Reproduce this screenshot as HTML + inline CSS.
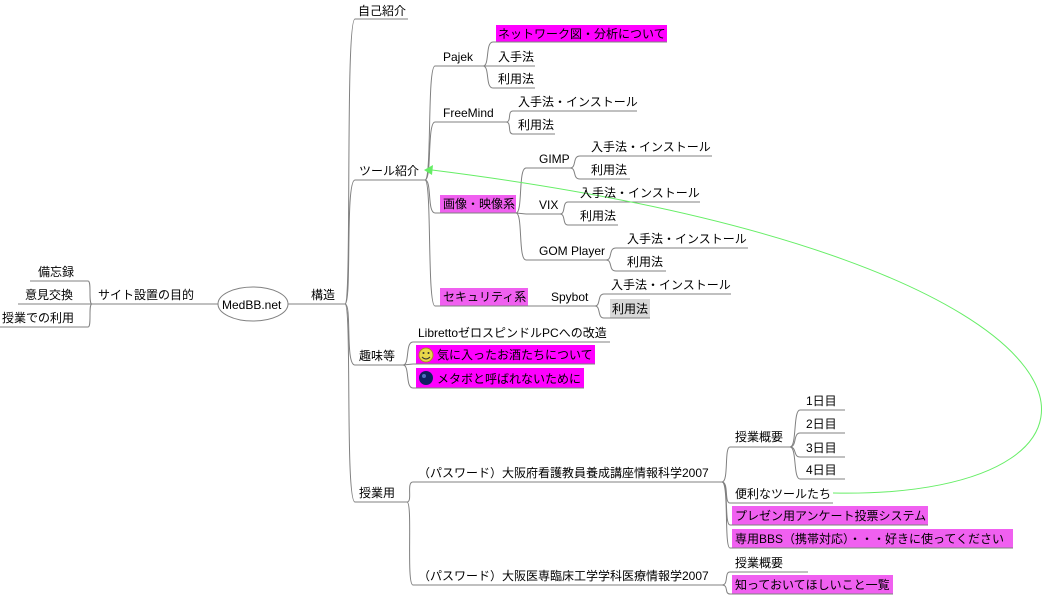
<!DOCTYPE html>
<html><head><meta charset="utf-8">
<style>
html,body{margin:0;padding:0;background:#fff;width:1050px;height:595px;overflow:hidden}
svg{display:block}
text{font-family:"Liberation Sans","Noto Sans CJK JP",sans-serif;font-size:12px;fill:#000}
.e{fill:none;stroke:#808080;stroke-width:1}
.u{stroke:#808080;stroke-width:1}
</style></head><body>
<svg width="1050" height="595" viewBox="0 0 1050 595" xmlns="http://www.w3.org/2000/svg">
<rect x="496" y="25" width="171" height="17" fill="#ff00ff"/>
<rect x="440" y="195" width="76" height="18" fill="#f060f0"/>
<rect x="440" y="288" width="88" height="18" fill="#f060f0"/>
<rect x="610" y="299" width="40" height="19" fill="#d8d8d8"/>
<rect x="416" y="345" width="179" height="19" fill="#ff00ff"/>
<rect x="416" y="368" width="168" height="20" fill="#ff00ff"/>
<rect x="732" y="506" width="196" height="19" fill="#f060f0"/>
<rect x="732" y="529" width="281" height="19" fill="#f060f0"/>
<rect x="732" y="575" width="161" height="19" fill="#f060f0"/>

<ellipse cx="253" cy="304" rx="35" ry="17" fill="#fff" stroke="#808080"/>

<g class="u">
<line x1="30" y1="281" x2="88" y2="281"/>
<line x1="18" y1="304" x2="88" y2="304"/>
<line x1="0" y1="327" x2="88" y2="327"/>
<line x1="92" y1="304" x2="218" y2="304"/>
<line x1="288" y1="304" x2="345" y2="304"/>
<line x1="355" y1="19" x2="408" y2="19"/>
<line x1="355" y1="180" x2="425" y2="180"/>
<line x1="355" y1="365" x2="403" y2="365"/>
<line x1="355" y1="502" x2="407" y2="502"/>
<line x1="435" y1="66" x2="483" y2="66"/>
<line x1="493" y1="42" x2="667" y2="42"/>
<line x1="493" y1="66" x2="535" y2="66"/>
<line x1="493" y1="88" x2="535" y2="88"/>
<line x1="435" y1="122" x2="506" y2="122"/>
<line x1="513" y1="111" x2="637" y2="111"/>
<line x1="513" y1="134" x2="555" y2="134"/>
<line x1="435" y1="213" x2="516" y2="213"/>
<line x1="526" y1="168" x2="570" y2="168"/>
<line x1="580" y1="156" x2="712" y2="156"/>
<line x1="580" y1="179" x2="630" y2="179"/>
<line x1="526" y1="214" x2="560" y2="214"/>
<line x1="568" y1="202" x2="700" y2="202"/>
<line x1="568" y1="225" x2="618" y2="225"/>
<line x1="526" y1="260" x2="606" y2="260"/>
<line x1="616" y1="248" x2="748" y2="248"/>
<line x1="616" y1="271" x2="666" y2="271"/>
<line x1="435" y1="306" x2="595" y2="306"/>
<line x1="604" y1="294" x2="731" y2="294"/>
<line x1="604" y1="318" x2="650" y2="318"/>
<line x1="413" y1="342" x2="610" y2="342"/>
<line x1="413" y1="364" x2="595" y2="364"/>
<line x1="413" y1="388" x2="584" y2="388"/>
<line x1="413" y1="482" x2="722" y2="482"/>
<line x1="413" y1="585" x2="722" y2="585"/>
<line x1="730" y1="447" x2="790" y2="447"/>
<line x1="800" y1="410" x2="845" y2="410"/>
<line x1="800" y1="433" x2="845" y2="433"/>
<line x1="800" y1="457" x2="845" y2="457"/>
<line x1="800" y1="479" x2="845" y2="479"/>
<line x1="730" y1="503" x2="833" y2="503"/>
<line x1="730" y1="525" x2="928" y2="525"/>
<line x1="730" y1="548" x2="1013" y2="548"/>
<line x1="730" y1="572" x2="808" y2="572"/>
<line x1="730" y1="594" x2="893" y2="594"/>
</g>

<g class="e">
<path d="M92 304 C88 304 92 281 88 281"/>
<path d="M92 304 L88 304"/>
<path d="M92 304 C88 304 92 327 88 327"/>
<path d="M345 304 C352 304 345 19 355 19"/>
<path d="M345 304 C352 304 345 180 355 180"/>
<path d="M345 304 C352 304 345 365 355 365"/>
<path d="M345 304 C352 304 345 502 355 502"/>
<path d="M425 180 C432 180 427 66 435 66"/>
<path d="M425 180 C432 180 427 122 435 122"/>
<path d="M425 180 C432 180 427 213 435 213"/>
<path d="M425 180 C432 180 427 306 435 306"/>
<path d="M483 66 C490 66 485 42 493 42"/>
<path d="M483 66 L493 66"/>
<path d="M483 66 C490 66 485 88 493 88"/>
<path d="M506 122 C512 122 507 111 513 111"/>
<path d="M506 122 C512 122 507 134 513 134"/>
<path d="M516 213 C523 213 518 168 526 168"/>
<path d="M516 213 L526 214"/>
<path d="M516 213 C523 213 518 260 526 260"/>
<path d="M570 168 C577 168 572 156 580 156"/>
<path d="M570 168 C577 168 572 179 580 179"/>
<path d="M560 214 C566 214 562 202 568 202"/>
<path d="M560 214 C566 214 562 225 568 225"/>
<path d="M606 260 C613 260 608 248 616 248"/>
<path d="M606 260 C613 260 608 271 616 271"/>
<path d="M595 306 C601 306 597 294 604 294"/>
<path d="M595 306 C601 306 597 318 604 318"/>
<path d="M403 365 C410 365 405 342 413 342"/>
<path d="M403 365 L413 364"/>
<path d="M403 365 C410 365 405 388 413 388"/>
<path d="M407 502 C413 502 406 482 413 482"/>
<path d="M407 502 C413 502 406 585 413 585"/>
<path d="M722 482 C729 482 724 447 730 447"/>
<path d="M722 482 C729 482 724 503 730 503"/>
<path d="M722 482 C729 482 724 525 730 525"/>
<path d="M722 482 C729 482 724 548 730 548"/>
<path d="M790 447 C797 447 793 410 800 410"/>
<path d="M790 447 C797 447 793 433 800 433"/>
<path d="M790 447 C797 447 793 457 800 457"/>
<path d="M790 447 C797 447 793 479 800 479"/>
<path d="M722 585 C729 585 724 572 730 572"/>
<path d="M722 585 C729 585 724 594 730 594"/>
</g>

<path d="M833 493 C1165 500 1148 260 432 170" fill="none" stroke="#66ee66" stroke-width="1"/>
<polygon points="424,170 433,165 432,175" fill="#66ee66"/>

<circle cx="426" cy="355" r="7" fill="#e8d84a" stroke="#a89020"/>
<circle cx="423.5" cy="353" r="1" fill="#333"/><circle cx="428.5" cy="353" r="1" fill="#333"/>
<path d="M422 357 Q426 361 430 357" fill="none" stroke="#333"/>
<circle cx="426" cy="378" r="7" fill="#102060"/>
<circle cx="424" cy="376" r="2" fill="#5070c0"/>

<text x="38" y="276">備忘録</text>
<text x="25" y="299">意見交換</text>
<text x="2" y="322">授業での利用</text>
<text x="98" y="299">サイト設置の目的</text>
<text x="222" y="309">MedBB.net</text>
<text x="311" y="299">構造</text>
<text x="358" y="15">自己紹介</text>
<text x="359" y="175">ツール紹介</text>
<text x="359" y="360">趣味等</text>
<text x="359" y="497">授業用</text>
<text x="443" y="61">Pajek</text>
<text x="498" y="38">ネットワーク図・分析について</text>
<text x="498" y="61">入手法</text>
<text x="498" y="83">利用法</text>
<text x="443" y="117">FreeMind</text>
<text x="518" y="106">入手法・インストール</text>
<text x="518" y="129">利用法</text>
<text x="443" y="208">画像・映像系</text>
<text x="539" y="163">GIMP</text>
<text x="591" y="151">入手法・インストール</text>
<text x="591" y="174">利用法</text>
<text x="539" y="209">VIX</text>
<text x="580" y="197">入手法・インストール</text>
<text x="580" y="220">利用法</text>
<text x="539" y="255">GOM Player</text>
<text x="627" y="243">入手法・インストール</text>
<text x="627" y="266">利用法</text>
<text x="443" y="301">セキュリティ系</text>
<text x="551" y="301">Spybot</text>
<text x="611" y="289">入手法・インストール</text>
<text x="612" y="313">利用法</text>
<text x="418" y="337">LibrettoゼロスピンドルPCへの改造</text>
<text x="437" y="359">気に入ったお酒たちについて</text>
<text x="437" y="383">メタボと呼ばれないために</text>
<text x="418" y="477">（パスワード）大阪府看護教員養成講座情報科学2007</text>
<text x="418" y="580">（パスワード）大阪医専臨床工学学科医療情報学2007</text>
<text x="735" y="441">授業概要</text>
<text x="806" y="405">1日目</text>
<text x="806" y="428">2日目</text>
<text x="806" y="452">3日目</text>
<text x="806" y="474">4日目</text>
<text x="735" y="498">便利なツールたち</text>
<text x="735" y="520">プレゼン用アンケート投票システム</text>
<text x="735" y="543">専用BBS（携帯対応）・・・好きに使ってください</text>
<text x="735" y="567">授業概要</text>
<text x="735" y="589">知っておいてほしいこと一覧</text>
</svg>
</body></html>
